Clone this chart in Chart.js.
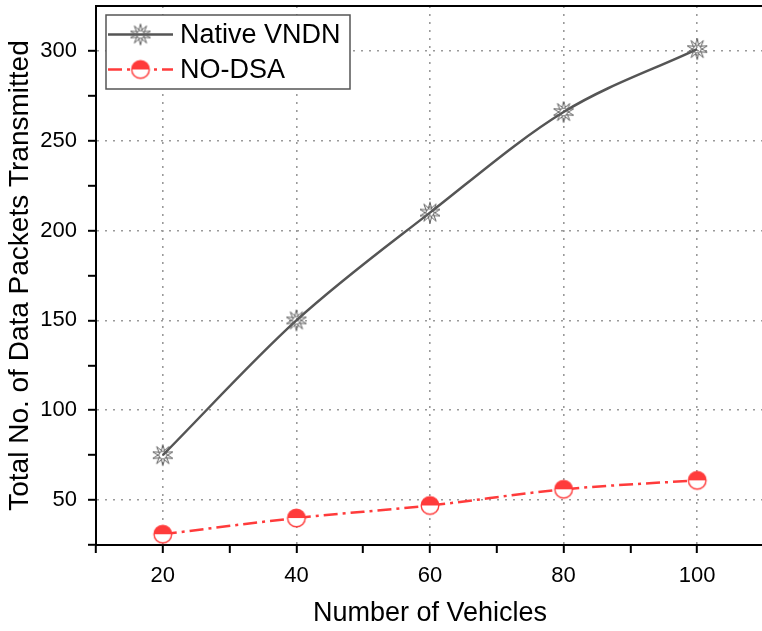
<!DOCTYPE html>
<html>
<head>
<meta charset="utf-8">
<script src="https://cdn.jsdelivr.net/npm/chart.js@4.4.1/dist/chart.umd.min.js"></script>
<style>
  html, body { margin: 0; padding: 0; background: #fff; overflow: hidden; }
  #wrap { width: 775px; height: 631px; }
</style>
</head>
<body>
<div id="wrap"><canvas id="c" width="775" height="631"></canvas></div>
<script>
// ---- data ----
const vehicles = [20, 40, 60, 80, 100];
const nativeVNDN = [75, 150, 210, 266, 301];
const noDSA = [31, 40, 47, 56, 61];
const seriesNames = ["Native VNDN", "NO-DSA"];
const xTickLabels = [20, 40, 60, 80, 100];
const yTickLabels = [50, 100, 150, 200, 250, 300];
const xTitle = "Number of Vehicles";
const yTitle = "Total No. of Data Packets Transmitted";

const FONT = "'Liberation Sans', Arial, sans-serif";
const GRAY = '#555555';
const RED = '#ff3b3b';

// ---- marker images ----
function starMarker() {
  const c = document.createElement('canvas');
  c.width = 26; c.height = 26;
  const g = c.getContext('2d');
  g.strokeStyle = '#606060'; g.lineWidth = 1.0; g.lineJoin = 'miter';
  function star(rot) {
    g.beginPath();
    for (let i = 0; i < 10; i++) {
      const r = i % 2 === 0 ? 10.5 : 3.4;
      const a = rot + i * Math.PI / 5;
      const x = 13 + r * Math.sin(a), y = 13 - r * Math.cos(a);
      if (i === 0) g.moveTo(x, y); else g.lineTo(x, y);
    }
    g.closePath(); g.stroke();
  }
  star(0); star(Math.PI);
  return c;
}
function halfCircleMarker() {
  const c = document.createElement('canvas');
  c.width = 22; c.height = 22;
  const g = c.getContext('2d');
  const r = 8.8;
  g.beginPath(); g.arc(11, 11, r, 0, Math.PI * 2); g.fillStyle = '#fff'; g.fill();
  g.beginPath(); g.arc(11, 11, r, Math.PI, 0); g.closePath(); g.fillStyle = RED; g.fill();
  g.beginPath(); g.arc(11, 11, r, 0, Math.PI * 2); g.strokeStyle = RED; g.lineWidth = 1.4; g.stroke();
  return c;
}
const starImg = starMarker();
const circImg = halfCircleMarker();

// ---- legend inside plot ----
const insideLegend = {
  id: 'insideLegend',
  afterDraw(chart) {
    const ctx = chart.ctx;
    const bx = 106, by = 15, bw = 244, bh = 74;
    ctx.save();
    ctx.fillStyle = '#fff';
    ctx.fillRect(bx, by, bw, bh);
    ctx.strokeStyle = '#555'; ctx.lineWidth = 1.5;
    ctx.strokeRect(bx, by, bw, bh);
    const rows = [34.5, 69.5];
    chart.data.datasets.forEach((ds, i) => {
      const y = rows[i];
      ctx.beginPath();
      ctx.setLineDash(ds.borderDash || []);
      ctx.strokeStyle = ds.borderColor; ctx.lineWidth = ds.borderWidth;
      ctx.moveTo(108, y); ctx.lineTo(173, y); ctx.stroke();
      ctx.setLineDash([]);
      const img = ds.pointStyle;
      ctx.drawImage(img, 140.5 - img.width / 2, y - img.height / 2);
      ctx.fillStyle = '#000';
      ctx.font = '27px ' + FONT;
      ctx.textBaseline = 'middle';
      ctx.textAlign = 'left';
      ctx.fillText(ds.label, 180, y + 1);
    });
    ctx.restore();
  }
};

const isMajorX = v => v % 20 === 0 && v >= 20 && v <= 100;
const isMajorY = v => v % 50 === 0 && v >= 50 && v <= 300;

new Chart(document.getElementById('c'), {
  type: 'line',
  data: {
    datasets: [
      {
        label: seriesNames[0],
        data: vehicles.map((x, i) => ({ x, y: nativeVNDN[i] })),
        borderColor: GRAY, borderWidth: 2.5,
        pointStyle: starImg, pointRadius: 10,
        cubicInterpolationMode: 'monotone'
      },
      {
        label: seriesNames[1],
        data: vehicles.map((x, i) => ({ x, y: noDSA[i] })),
        borderColor: RED, borderWidth: 2.5, borderDash: [14, 5, 3, 5],
        pointStyle: circImg, pointRadius: 10,
        cubicInterpolationMode: 'monotone'
      }
    ]
  },
  options: {
    responsive: false,
    animation: false,
    layout: { autoPadding: false, padding: { left: 0, right: 11, top: 0, bottom: 0 } },
    plugins: { legend: { display: false }, tooltip: { enabled: false } },
    scales: {
      x: {
        type: 'linear', position: 'bottom', min: 10, max: 110,
        afterFit(s) { s.height = 86; s.paddingLeft = 0; s.paddingRight = 0; },
        ticks: {
          stepSize: 10, autoSkip: false, maxRotation: 0, padding: 10,
          color: '#000', font: { family: FONT, size: 22 },
          callback: v => (v >= 110) ? null : ((isMajorX(v) && xTickLabels.includes(v)) ? String(v) : '')
        },
        grid: {
          color: c => (c.tick && isMajorX(c.tick.value)) ? '#9a9a9a' : 'rgba(0,0,0,0)',
          lineWidth: 1.6,
          drawTicks: true, tickLength: 8,
          tickColor: '#000', tickWidth: 2, tickBorderDash: []
        },
        border: { display: true, color: '#000', width: 2, dash: [2, 6] },
        title: { display: true, text: xTitle, color: '#000', font: { family: FONT, size: 27 }, padding: { top: 0, bottom: 1 } }
      },
      xTop: {
        type: 'linear', position: 'top', min: 10, max: 110,
        afterFit(s) { s.height = 6; s.paddingLeft = 0; s.paddingRight = 0; },
        ticks: { display: false },
        grid: { drawOnChartArea: false, drawTicks: false },
        border: { display: true, color: '#000', width: 2 }
      },
      y: {
        type: 'linear', position: 'left', min: 25, max: 325,
        afterFit(s) { s.width = 96; s.paddingTop = 0; s.paddingBottom = 0; },
        ticks: {
          stepSize: 25, autoSkip: false, padding: 11,
          color: '#000', font: { family: FONT, size: 22 },
          callback: v => (v >= 325) ? null : ((isMajorY(v) && yTickLabels.includes(v)) ? String(v) : '')
        },
        grid: {
          color: c => (c.tick && isMajorY(c.tick.value)) ? '#9a9a9a' : 'rgba(0,0,0,0)',
          lineWidth: 1.6,
          drawTicks: true, tickLength: 8,
          tickColor: '#000', tickWidth: 2, tickBorderDash: []
        },
        border: { display: true, color: '#000', width: 2, dash: [2, 6] },
        title: { display: true, text: yTitle, color: '#000', font: { family: FONT, size: 28 }, padding: { top: 3, bottom: 0 } }
      }
    }
  },
  plugins: [insideLegend]
});
</script>
</body>
</html>
